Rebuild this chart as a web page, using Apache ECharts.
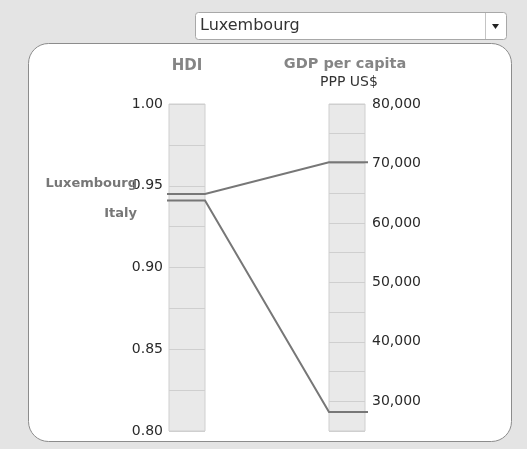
<!DOCTYPE html>
<html style="height: 100%">
<head>
    <meta charset="utf-8">
</head>
<body style="height: 100%; margin: 0; background: #e4e4e4">
<div id="container" style="width: 527px; height: 449px"></div>
<script src="https://cdn.jsdelivr.net/npm/echarts@6/dist/echarts.min.js"></script>
<script type="text/javascript">
    // data
    var countries = ['Luxembourg', 'Italy'];
    var hdiValues = [0.945, 0.941];
    var gdpValues = [70200, 28200];
    var hdiRange = [0.80, 1.00];
    var gdpRange = [25000, 80000];
    var selected = 'Luxembourg';

    var font = '"DejaVu Sans", Verdana, sans-serif';
    var dom = document.getElementById("container");
    var myChart = echarts.init(dom);

    // spread the country labels so they don't sit on top of each other
    function labelYs() {
        var ys = hdiValues.map(function (v) {
            return myChart.convertToPixel({gridIndex: 0}, [0, v])[1];
        });
        var order = ys.map(function (y, i) { return i; }).sort(function (a, b) { return ys[a] - ys[b]; });
        var gap = 30;
        var mid = 0;
        ys.forEach(function (y) { mid += y; });
        mid = mid / ys.length + 1;
        var out = [];
        order.forEach(function (idx, k) {
            out[idx] = mid + (k - (order.length - 1) / 2) * gap;
        });
        return out;
    }

    function renderLine(params, api) {
        var hdi = api.value(0), gdp = api.value(1);
        var a = api.coord([0, hdi]);
        var b = api.coord([1, hdi]);
        var c = myChart.convertToPixel({gridIndex: 1}, [0, gdp]);
        var d = myChart.convertToPixel({gridIndex: 1}, [1, gdp]);
        var ly = labelYs()[params.dataIndex];
        return {
            type: 'group',
            children: [{
                type: 'polyline',
                shape: {points: [[a[0] - 2, a[1]], b, c, [d[0] + 3, d[1]]]},
                style: {stroke: '#777777', lineWidth: 2, fill: null}
            }, {
                type: 'text',
                x: a[0] - 32,
                y: ly,
                style: {
                    text: countries[params.dataIndex],
                    font: 'bold 13px ' + font,
                    fill: '#777777',
                    align: 'right',
                    verticalAlign: 'middle'
                }
            }]
        };
    }

    var option = {
        backgroundColor: '#e4e4e4',
        animation: false,
        graphic: [
            {type: 'rect', z: -10, shape: {x: 28.5, y: 43.5, width: 483, height: 398, r: 20},
                style: {fill: '#ffffff', stroke: '#8c8c8c', lineWidth: 1}},
            // dropdown
            {type: 'rect', shape: {x: 195.5, y: 12.5, width: 311, height: 27, r: 3},
                style: {fill: '#ffffff', stroke: '#a8a8a8', lineWidth: 1}},
            {type: 'line', shape: {x1: 485.5, y1: 13, x2: 485.5, y2: 39}, style: {stroke: '#c4c4c4'}},
            {type: 'polygon', shape: {points: [[492, 24], [499, 24], [495.5, 29]]}, style: {fill: '#222'}},
            {type: 'text', x: 200, y: 26, style: {text: selected, font: '16px ' + font, fill: '#333', verticalAlign: 'middle'}},
            // titles
            {type: 'text', x: 187, y: 66, style: {text: 'HDI', font: 'bold 15px ' + font, fill: '#858585', align: 'center', verticalAlign: 'middle'}},
            {type: 'text', x: 345, y: 64, style: {text: 'GDP per capita', font: 'bold 14.5px ' + font, fill: '#858585', align: 'center', verticalAlign: 'middle'}},
            {type: 'text', x: 349, y: 82, style: {text: 'PPP US$', font: '14px ' + font, fill: '#333', align: 'center', verticalAlign: 'middle'}}
        ],
        grid: [
            {left: 169, width: 36, top: 104, height: 327, show: true, backgroundColor: '#e9e9e9', borderColor: '#cfcfcf', borderWidth: 1},
            {left: 329, width: 36, top: 104, height: 327, show: true, backgroundColor: '#e9e9e9', borderColor: '#cfcfcf', borderWidth: 1}
        ],
        xAxis: [
            {gridIndex: 0, type: 'value', min: 0, max: 1, show: false},
            {gridIndex: 1, type: 'value', min: 0, max: 1, show: false}
        ],
        yAxis: [
            {
                gridIndex: 0, type: 'value', position: 'left',
                min: hdiRange[0], max: hdiRange[1], interval: 0.025,
                axisLine: {show: false}, axisTick: {show: false},
                splitLine: {lineStyle: {color: '#cfcfcf', width: 1}},
                axisLabel: {
                    margin: 6, color: '#2a2a2a', fontSize: 14, fontFamily: font,
                    formatter: function (v) {
                        return Math.round(v * 1000) % 50 === 0 ? v.toFixed(2) : '';
                    }
                }
            },
            {
                gridIndex: 1, type: 'value', position: 'right',
                min: gdpRange[0], max: gdpRange[1], interval: 5000,
                axisLine: {show: false}, axisTick: {show: false},
                splitLine: {lineStyle: {color: '#cfcfcf', width: 1}},
                axisLabel: {
                    margin: 7, color: '#2a2a2a', fontSize: 14, fontFamily: font,
                    formatter: function (v) {
                        return v % 10000 === 0 ? v.toLocaleString('en-US') : '';
                    }
                }
            }
        ],
        series: [{
            type: 'custom',
            xAxisIndex: 0,
            yAxisIndex: 0,
            clip: false,
            z: 5,
            renderItem: renderLine,
            data: hdiValues.map(function (v, i) { return [v, gdpValues[i]]; }),
            encode: {y: 0}
        }]
    };

    myChart.setOption(option);
</script>
</body>
</html>
